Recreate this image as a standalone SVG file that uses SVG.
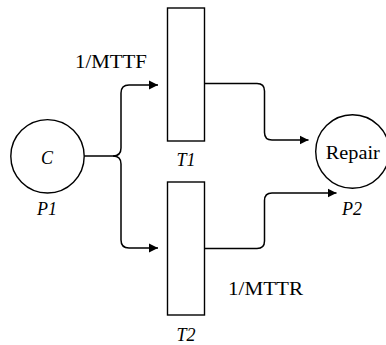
<svg xmlns="http://www.w3.org/2000/svg" width="386" height="345" viewBox="0 0 386 345" font-family="Liberation Serif, DejaVu Serif, serif">
<style>
.shape{fill:#fff;stroke:#000;stroke-width:1.4}
.conn{fill:none;stroke:#000;stroke-width:1.5}
.lbl{font-family:"Liberation Serif","DejaVu Serif",serif;font-size:18px;fill:#000;text-anchor:middle}
.it{font-style:italic}
</style>
<defs>
<marker id="arr" markerUnits="userSpaceOnUse" markerWidth="10" markerHeight="10" refX="9" refY="5" orient="auto">
<path d="M0,0.4 L9,5 L0,9.6 Z" fill="#000"/>
</marker>
</defs>
<g id="connectors">
<path class="conn" d="M84,156 H113 Q121,156 121,148 V93 Q121,85 129,85 H158" marker-end="url(#arr)"/>
<path class="conn" d="M113,156 Q121,156 121,164 V240 Q121,248 129,248 H158" marker-end="url(#arr)"/>
<path class="conn" d="M204.5,83.5 H257 Q264.5,83.5 264.5,91 V132.5 Q264.5,140 272,140 H308.5" marker-end="url(#arr)"/>
<path class="conn" d="M204.5,248.5 H257 Q264.5,248.5 264.5,241 V200.5 Q264.5,193 272,193 H336.5" marker-end="url(#arr)"/>
</g>
<g id="P1">
<circle class="shape" cx="47.5" cy="156.3" r="36.7"/>
<text class="lbl it" x="47" y="164">C</text>
<text class="lbl it" x="47" y="215">P1</text>
</g>
<g id="P2">
<circle class="shape" cx="352.5" cy="151.5" r="36.8"/>
<text class="lbl" x="352.8" y="159" textLength="54" lengthAdjust="spacingAndGlyphs">Repair</text>
<text class="lbl it" x="352" y="215">P2</text>
</g>
<g id="T1">
<rect class="shape" x="167.5" y="8" width="37" height="133"/>
<text class="lbl it" x="186" y="166">T1</text>
<text class="lbl" x="111" y="68" textLength="72" lengthAdjust="spacingAndGlyphs">1/MTTF</text>
</g>
<g id="T2">
<rect class="shape" x="167.5" y="182" width="37" height="133"/>
<text class="lbl it" x="186" y="341">T2</text>
<text class="lbl" x="265.5" y="295" textLength="75" lengthAdjust="spacingAndGlyphs">1/MTTR</text>
</g>
</svg>
